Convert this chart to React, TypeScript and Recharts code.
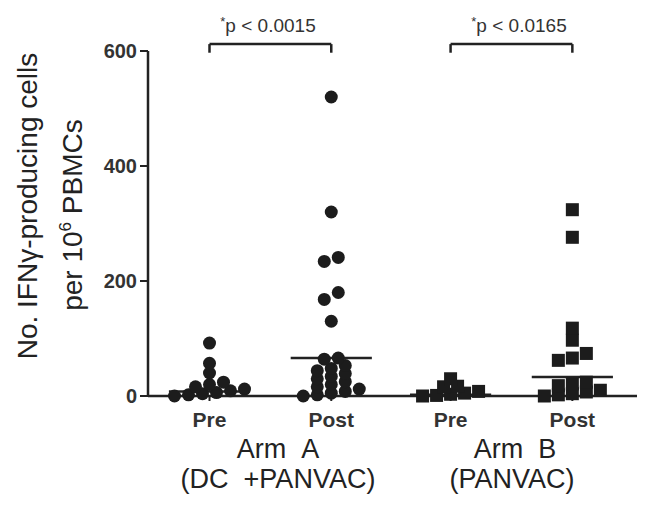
import React from "react";
import { ScatterChart, Scatter, XAxis, YAxis, ReferenceLine } from "recharts";

// values (IFN-gamma producing cells per 10^6 PBMCs)
const groupLabels = ["Pre", "Post", "Pre", "Post"];
const preA = [0, 2, 4, 6, 9, 12, 16, 20, 24, 40, 57, 92];
const postA = [0, 2, 5, 8, 12, 16, 20, 25, 30, 34, 39, 44, 48, 53, 64, 66, 130, 168, 180, 234, 241, 320, 520];
const preB = [0, 1, 3, 5, 8, 16, 17, 30];
const postB = [0, 2, 4, 7, 10, 18, 21, 24, 62, 66, 74, 97, 118, 276, 324];
const summaryLines = [8, 66, 2, 33];
const pValues = ["p < 0.0015", "p < 0.0165"];
const yTicks = [0, 200, 400, 600];

// layout
const W = 645;
const H = 507;
const margin = { top: 51, right: 5, bottom: 81, left: 88 };
const yAxisW = 60;
const xAxisH = 30;
const xDomain: [number, number] = [0, 4];
const xPositions = [0.5, 1.49, 2.46, 3.45];
const plotW = W - margin.left - yAxisW - margin.right;
const plotH = H - margin.top - margin.bottom - xAxisH;
const pxPerX = plotW / (xDomain[1] - xDomain[0]);
const pxPerY = plotH / 600;
const stepPx = 14;
const rowPx = 8;
const ink = "#1c1c1c";
const sp = "\u00a0";

// simple row-based swarm: nearby values share a row and are centred around the group
function swarm(values: number[], center: number) {
  const sorted = [...values].sort((a, b) => a - b);
  const rows: number[][] = [];
  sorted.forEach((v) => {
    const row = rows[rows.length - 1];
    if (row && (v - row[0]) * pxPerY < rowPx) row.push(v);
    else rows.push([v]);
  });
  const pts: { x: number; y: number }[] = [];
  rows.forEach((row) => {
    row.forEach((v, i) => {
      pts.push({ x: center + ((i - (row.length - 1) / 2) * stepPx) / pxPerX, y: v });
    });
  });
  return pts;
}

const Dot = (p: any) => <circle cx={p.cx} cy={p.cy} r={6.5} fill={ink} />;
const Square = (p: any) => <rect x={p.cx - 6.5} y={p.cy - 6.5} width={13} height={13} fill={ink} />;

const groups = [preA, postA, preB, postB];
const halfLine = 0.33;
const bracketTop = 612;
const bracketFoot = 597;

export default function App() {
  const font = "'Liberation Sans', Arial, sans-serif";
  return (
    <div style={{ position: "relative", width: W, height: H, margin: "-8px 0 0 -8px", fontFamily: font }}>
      <ScatterChart width={W} height={H} margin={margin} style={{ fontFamily: font }}>
        <XAxis
          type="number"
          dataKey="x"
          domain={xDomain}
          ticks={xPositions}
          interval={0}
          tickFormatter={(v: number) => groupLabels[xPositions.indexOf(v)] ?? ""}
          height={xAxisH}
          tickSize={5}
          tickMargin={11}
          axisLine={{ stroke: "#222", strokeWidth: 2.5 }}
          tickLine={{ stroke: "#222", strokeWidth: 2 }}
          tick={{ fontSize: 21, fontWeight: 700, fill: "#333" }}
        />
        <YAxis
          type="number"
          dataKey="y"
          domain={[0, 600]}
          ticks={yTicks}
          width={yAxisW}
          tickSize={8}
          tickMargin={3}
          axisLine={{ stroke: "#222", strokeWidth: 2.5 }}
          tickLine={{ stroke: "#222", strokeWidth: 2 }}
          tick={{ fontSize: 20, fontWeight: 700, fill: "#333" }}
        />
        {groups.map((vals, i) => (
          <Scatter
            key={i}
            data={swarm(vals, xPositions[i])}
            shape={i < 2 ? Dot : Square}
            isAnimationActive={false}
          />
        ))}
        {summaryLines.map((v, i) => (
          <ReferenceLine
            key={"m" + i}
            segment={[
              { x: xPositions[i] - halfLine, y: v },
              { x: xPositions[i] + halfLine, y: v },
            ]}
            stroke="#222"
            strokeWidth={2.5}
            ifOverflow="visible"
          />
        ))}
        {[0, 2].map((i) => (
          <React.Fragment key={"b" + i}>
            <ReferenceLine
              segment={[
                { x: xPositions[i], y: bracketTop },
                { x: xPositions[i + 1], y: bracketTop },
              ]}
              stroke="#222"
              strokeWidth={2.5}
              ifOverflow="visible"
            />
            <ReferenceLine
              segment={[
                { x: xPositions[i], y: bracketTop },
                { x: xPositions[i], y: bracketFoot },
              ]}
              stroke="#222"
              strokeWidth={2.5}
              ifOverflow="visible"
            />
            <ReferenceLine
              segment={[
                { x: xPositions[i + 1], y: bracketTop },
                { x: xPositions[i + 1], y: bracketFoot },
              ]}
              stroke="#222"
              strokeWidth={2.5}
              ifOverflow="visible"
            />
          </React.Fragment>
        ))}
      </ScatterChart>
      <svg
        width={W}
        height={H}
        style={{ position: "absolute", left: 0, top: 0, pointerEvents: "none" }}
        fontFamily={font}
      >
        {pValues.map((p, i) => (
          <text key={p} x={i === 0 ? 268 : 519} y={32} textAnchor="middle" fill="#333" fontSize={19}>
            <tspan fontSize={13} dy={-6}>*</tspan>
            <tspan dy={6}>{p}</tspan>
          </text>
        ))}
        <g fill="#222" fontSize={28} textAnchor="middle">
          <text transform="translate(37,206) rotate(-90)">No. IFNγ-producing cells</text>
          <text transform="translate(82,215) rotate(-90)">
            per 10<tspan fontSize={17} dy={-11}>6</tspan>
            <tspan dy={11}> PBMCs</tspan>
          </text>
        </g>
        <g fill="#222" fontSize={27} textAnchor="middle">
          <text x={278} y={458}>{"Arm" + sp + sp + "A"}</text>
          <text x={278} y={488}>{"(DC" + sp + sp + "+PANVAC)"}</text>
          <text x={515} y={458}>{"Arm" + sp + sp + "B"}</text>
          <text x={512} y={488}>(PANVAC)</text>
        </g>
      </svg>
    </div>
  );
}
